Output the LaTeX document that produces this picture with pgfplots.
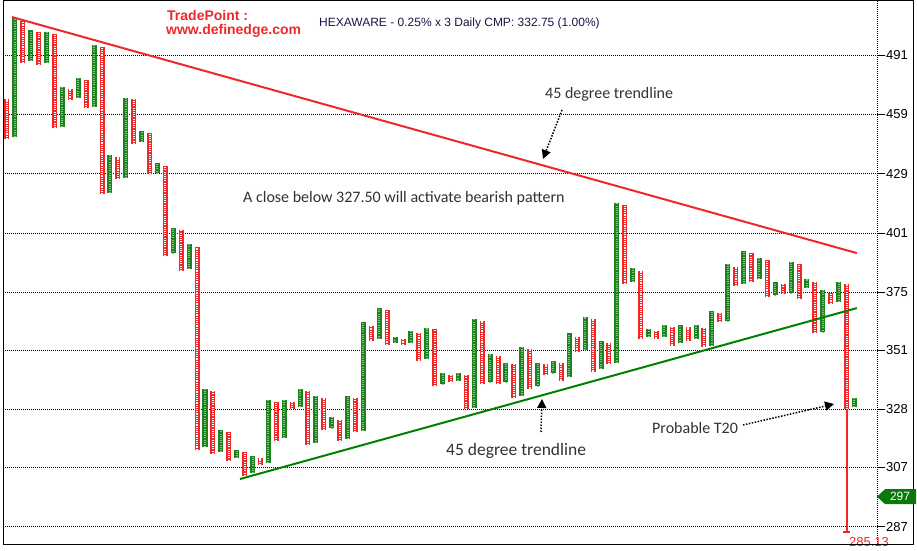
\documentclass[border=0pt]{standalone}
\usepackage{pgfplots}
\pgfplotsset{compat=1.18}
\usepackage{fontspec}
\setmainfont{Liberation Sans}
\newfontfamily\calfont{Carlito}
\usetikzlibrary{arrows.meta}
\definecolor{pfred}{RGB}{240,40,40}
\definecolor{pfgreen}{RGB}{30,130,30}
\definecolor{pflight}{RGB}{130,200,130}
\definecolor{navy}{RGB}{30,20,70}
\definecolor{anno}{RGB}{50,50,50}
\definecolor{tagg}{RGB}{10,120,10}
\begin{document}
\begin{tikzpicture}
\begin{axis}[
  at={(0,0)}, anchor=south west, scale only axis,
  width=874pt, height=543pt,
  ymode=log, ymin=281.4, ymax=522.4, xmin=-0.505, xmax=109.85,
  axis x line=none, axis y line*=right,
  y axis line style={-, black, line width=0.8pt, dash pattern=on 1pt off 1pt},
  ytick={287,307,328,351,375,401,429,459,491},
  yticklabels={287,307,328,351,375,401,429,459,491},
  yminorticks=false,
  ymajorgrids, grid style={black, line width=0.8pt, dash pattern=on 1pt off 1pt},
  major tick length=8pt, tick align=outside,
  major tick style={black, line width=0.8pt, solid},
  yticklabel style={font=\fontsize{13}{13}\selectfont, inner sep=1pt},
  clip=false,
  unbounded coords=jump,
]
% O columns (falling)
\addplot[pfred, line width=5pt, line cap=butt,
  postaction={draw=white, line width=2pt, dash pattern=on 1.1pt off 1.1pt}] coordinates {
(0,446.4)(0,467.3)(0,nan)
(2,486.8)(2,510.4)(2,nan)
(4,485.7)(4,504.2)(4,nan)
(6,452.0)(6,503.0)(6,nan)
(8,466.8)(8,472.7)(8,nan)
(10,462.4)(10,477.6)(10,nan)
(12,419.2)(12,495.7)(12,nan)
(14,426.3)(14,437.3)(14,nan)
(16,443.9)(16,467.3)(16,nan)
(18,428.7)(18,449.5)(18,nan)
(20,390.6)(20,432.7)(20,nan)
(22,384.1)(22,402.5)(22,nan)
(24,313.3)(24,394.6)(24,nan)
(26,311.8)(26,335.1)(26,nan)
(28,309.4)(28,319.6)(28,nan)
(30,304.1)(30,312.5)(30,nan)
(32,307.9)(32,310.4)(32,nan)
(34,316.4)(34,330.8)(34,nan)
(36,328.1)(36,330.8)(36,nan)
(38,315.0)(38,335.1)(38,nan)
(40,320.3)(40,332.4)(40,nan)
(42,316.4)(42,324.2)(42,nan)
(44,319.6)(44,332.4)(44,nan)
(46,354.8)(46,360.9)(46,nan)
(48,353.1)(48,367.5)(48,nan)
(50,353.1)(50,355.6)(50,nan)
(52,346.8)(52,357.7)(52,nan)
(54,336.7)(54,359.3)(54,nan)
(56,338.3)(56,341.0)(56,nan)
(58,328.1)(58,341.0)(58,nan)
(60,337.5)(60,363.0)(60,nan)
(62,337.5)(62,348.8)(62,nan)
(64,332.4)(64,345.3)(64,nan)
(66,335.9)(66,351.5)(66,nan)
(68,341.0)(68,345.3)(68,nan)
(70,339.0)(70,346.0)(70,nan)
(72,350.3)(72,356.4)(72,nan)
(74,342.5)(74,363.8)(74,nan)
(76,345.3)(76,354.0)(76,nan)
(78,378.5)(78,413.9)(78,nan)
(80,355.6)(80,384.1)(80,nan)
(82,355.6)(82,358.5)(82,nan)
(84,352.8)(84,360.5)(84,nan)
(86,354.8)(86,360.5)(86,nan)
(88,352.4)(88,360.1)(88,nan)
(90,362.2)(90,366.3)(90,nan)
(92,377.5)(92,385.8)(92,nan)
(94,379.4)(94,391.9)(94,nan)
(96,372.8)(96,388.9)(96,nan)
(98,374.1)(98,378.5)(98,nan)
(100,372.0)(100,387.1)(100,nan)
(102,357.7)(102,379.4)(102,nan)
(104,370.0)(104,374.5)(104,nan)
(106,328.1)(106,378.5)
};
% X columns (rising)
\addplot[pfgreen, line width=5pt, line cap=butt,
  postaction={draw=pflight, line width=2pt, dash pattern=on 0.7pt off 1.5pt}] coordinates {
(1,447.5)(1,512.1)(1,nan)
(3,487.9)(3,505.3)(3,nan)
(5,486.8)(5,504.2)(5,nan)
(7,452.5)(7,473.8)(7,nan)
(9,467.8)(9,478.7)(9,nan)
(11,462.9)(11,496.8)(11,nan)
(13,419.7)(13,438.3)(13,nan)
(15,427.2)(15,467.8)(15,nan)
(17,444.9)(17,450.5)(17,nan)
(19,429.2)(19,434.2)(19,nan)
(21,391.9)(21,403.5)(21,nan)
(23,384.9)(23,395.9)(23,nan)
(25,314.3)(25,335.9)(25,nan)
(27,312.5)(27,320.3)(27,nan)
(29,310.4)(29,313.3)(29,nan)
(31,305.2)(31,311.1)(31,nan)
(33,308.7)(33,331.6)(33,nan)
(35,317.5)(35,331.6)(35,nan)
(37,328.9)(37,335.9)(37,nan)
(39,315.8)(39,333.2)(39,nan)
(41,321.0)(41,325.3)(41,nan)
(43,317.1)(43,333.2)(43,nan)
(45,320.0)(45,362.2)(45,nan)
(47,355.6)(47,368.3)(47,nan)
(49,354.0)(49,356.4)(49,nan)
(51,354.0)(51,358.5)(51,nan)
(53,347.6)(53,360.1)(53,nan)
(55,337.5)(55,341.8)(55,nan)
(57,339.0)(57,341.8)(57,nan)
(59,328.5)(59,363.8)(59,nan)
(61,338.3)(61,349.6)(61,nan)
(63,338.3)(63,346.0)(63,nan)
(65,333.2)(65,352.4)(65,nan)
(67,336.7)(67,346.0)(67,nan)
(69,341.8)(69,346.8)(69,nan)
(71,340.3)(71,357.7)(71,nan)
(73,351.1)(73,364.6)(73,nan)
(75,343.6)(75,354.8)(75,nan)
(77,346.0)(77,414.9)(77,nan)
(79,379.4)(79,385.4)(79,nan)
(81,356.4)(81,359.3)(81,nan)
(83,356.4)(83,361.0)(83,nan)
(85,354.0)(85,361.0)(85,nan)
(87,355.6)(87,361.0)(87,nan)
(89,352.8)(89,367.1)(89,nan)
(91,362.6)(91,387.1)(91,nan)
(93,378.5)(93,392.8)(93,nan)
(95,380.7)(95,389.7)(95,nan)
(97,373.6)(97,379.2)(97,nan)
(99,374.5)(99,388.0)(99,nan)
(101,376.8)(101,380.7)(101,nan)
(103,358.1)(103,376.0)(103,nan)
(105,370.8)(105,379.4)(105,nan)
(107,328.9)(107,332.4)
};
% projected fall line to 285.13
\addplot[pfred, line width=2pt] coordinates {(106,328.1)(106,285.13)};
\addplot[pfred, line width=2pt] coordinates {(105.55,285.13)(106.45,285.13)};
% trendlines
\addplot[pfred, line width=2pt] coordinates {(0.63,512.9)(107.3,392.0)};
\addplot[green!50!black, line width=2pt] coordinates {(29.42,303.0)(107.3,368.2)};
\node[pfred, anchor=west, inner sep=0pt, font=\fontsize{13}{13}\selectfont] at (axis cs:106.3,282.0) {285.13};
\coordinate (tagtip) at (axis cs:109.85,297);
\end{axis}
% frame
\draw[black, line width=1pt] (0,0) rectangle (910pt,543pt);
% price tag
\fill[tagg] (tagtip) -- ++(8pt,7.5pt) -- ++(31pt,0) -- ++(0,-15pt) -- ++(-31pt,0) -- cycle;
\node[white, font=\fontsize{12}{12}\selectfont, inner sep=0pt] at ([xshift=23pt]tagtip) {297};
% header texts
\node[pfred, anchor=base west, inner sep=0pt, font=\bfseries\fontsize{14}{14}\selectfont] at (164pt,523pt) {TradePoint :};
\node[pfred, anchor=base west, inner sep=0pt, font=\bfseries\fontsize{14}{14}\selectfont] at (163pt,509pt) {www.definedge.com};
\node[navy, anchor=base west, inner sep=0pt, font=\fontsize{12}{12}\selectfont] at (316pt,517pt) {HEXAWARE - 0.25\% x 3 Daily CMP: 332.75 (1.00\%)};
% annotations
\node[anno, anchor=base west, inner sep=0pt, font=\calfont\fontsize{16}{16}\selectfont] at (542pt,446pt) {45 degree trendline};
\node[anno, anchor=base west, inner sep=0pt, font=\calfont\fontsize{16}{16}\selectfont] at (240pt,342pt) {A close below 327.50 will activate bearish pattern};
\node[anno, anchor=base west, inner sep=0pt, font=\calfont\fontsize{17.5}{17.5}\selectfont] at (443pt,89pt) {45 degree trendline};
\node[anno, anchor=base west, inner sep=0pt, font=\calfont\fontsize{16}{16}\selectfont] at (649pt,111pt) {Probable T20};
% arrows
\draw[black, line width=1.5pt, dash pattern=on 1.5pt off 1.5pt, -{Triangle[length=9pt,width=9pt,sep=0pt]}] (559pt,434pt) -- (540pt,385pt);
\draw[black, line width=1.5pt, dash pattern=on 1.5pt off 1.5pt, -{Triangle[length=9pt,width=9pt]}] (538pt,112pt) -- (539pt,145pt);
\draw[black, line width=1.5pt, dash pattern=on 1.5pt off 1.5pt, -{Triangle[length=9pt,width=9pt]}] (740pt,119pt) -- (831pt,140pt);
\pgfresetboundingbox
\path[use as bounding box] (-3pt,-6pt) rectangle (914pt,544pt);
\end{tikzpicture}
\end{document}
